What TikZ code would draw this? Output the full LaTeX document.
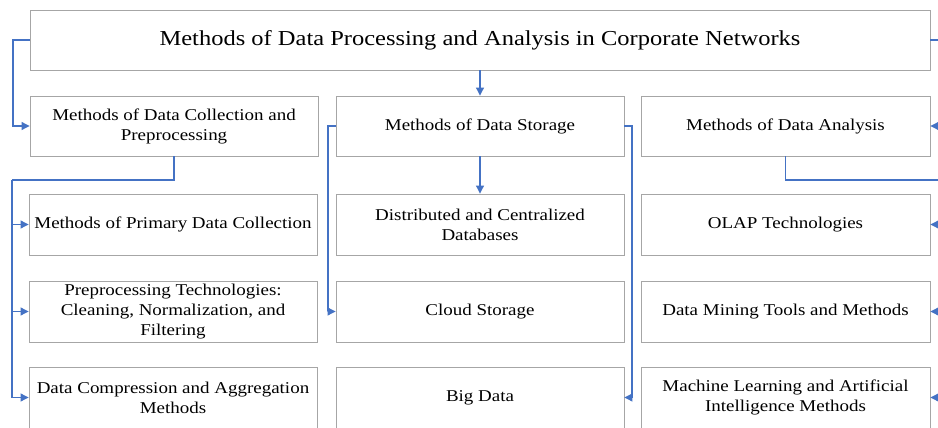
\documentclass[tikz,border=0pt]{standalone}
\usepackage{fontspec}
\setmainfont[FakeStretch=1.15]{Liberation Serif}
\usetikzlibrary{arrows.meta}
\definecolor{boxgray}{HTML}{A6A6A6}
\definecolor{connblue}{HTML}{4472C4}
\begin{document}
\begin{tikzpicture}[x=1pt,y=-1pt,
  box/.style={draw=boxgray, line width=0.9pt, fill=white, minimum width=288pt, minimum height=60pt,
     inner sep=0pt, align=center, font=\fontsize{16.5}{20}\selectfont},
  title/.style={draw=boxgray, line width=0.9pt, fill=white, minimum width=900pt, minimum height=60pt,
     inner sep=0pt, align=center, font=\fontsize{21.3}{25}\selectfont},
  conn/.style={draw=connblue, line width=1.1pt},
  arr/.style={conn, -{Triangle[length=8pt,width=8pt]}}]
\useasboundingbox (0,0) rectangle (938,428);
\clip (0,0) rectangle (938,428);
\fill[white] (0,0) rectangle (938,428);
% nodes
\node[title] (top) at (480,40) {Methods of Data Processing and Analysis in Corporate Networks};
\node[box] (coll) at (174,126) {Methods of Data Collection and\\Preprocessing};
\node[box] (stor) at (480,126) {Methods of Data Storage};
\node[box, minimum width=289pt] (anal) at (785.5,126) {Methods of Data Analysis};
\node[box, minimum height=61pt] (c1) at (173,224.5) {Methods of Primary Data Collection};
\node[box, minimum height=61pt] (c2) at (173,311.5) {Preprocessing Technologies:\\Cleaning, Normalization, and\\Filtering};
\node[box, minimum height=61pt] (c3) at (173,397.5) {Data Compression and Aggregation\\Methods};
\node[box, minimum height=61pt] (s1) at (480,224.5) {Distributed and Centralized\\Databases};
\node[box, minimum height=61pt] (s2) at (480,311.5) {Cloud Storage};
\node[box, minimum height=61pt] (s3) at (480,397.5) {Big Data};
\node[box, minimum width=289pt, minimum height=61pt] (a1) at (785.5,224.5) {OLAP Technologies};
\node[box, minimum width=289pt, minimum height=61pt] (a2) at (785.5,311.5) {Data Mining Tools and Methods};
\node[box, minimum width=289pt, minimum height=61pt] (a3) at (785.5,397.5) {Machine Learning and Artificial\\Intelligence Methods};
% bus coordinates
\coordinate (tl) at (13,40);
\coordinate (tr) at (948,40);
\coordinate (cb) at (12,180);
\coordinate (sl) at (328,126);
\coordinate (sr) at (632,126);
\coordinate (ab) at (948,180);
% connectors
\draw[arr] (top.west) -- (tl) |- (coll.west);
\draw[arr] (top.south) -- (stor.north);
\draw[arr] (top.east) -- (tr) |- (anal.east);
\draw[conn] (coll.south) |- (cb);
\draw[arr] (cb) |- (c1.west);
\draw[arr] (cb) |- (c2.west);
\draw[arr] (cb) |- (c3.west);
\draw[arr] (stor.south) -- (s1.north);
\draw[arr] (stor.west) -- (sl) |- (s2.west);
\draw[arr] (stor.east) -- (sr) |- (s3.east);
\draw[conn] (anal.south) |- (ab);
\draw[arr] (ab) |- (a1.east);
\draw[arr] (ab) |- (a2.east);
\draw[arr] (ab) |- (a3.east);
\end{tikzpicture}
\end{document}
